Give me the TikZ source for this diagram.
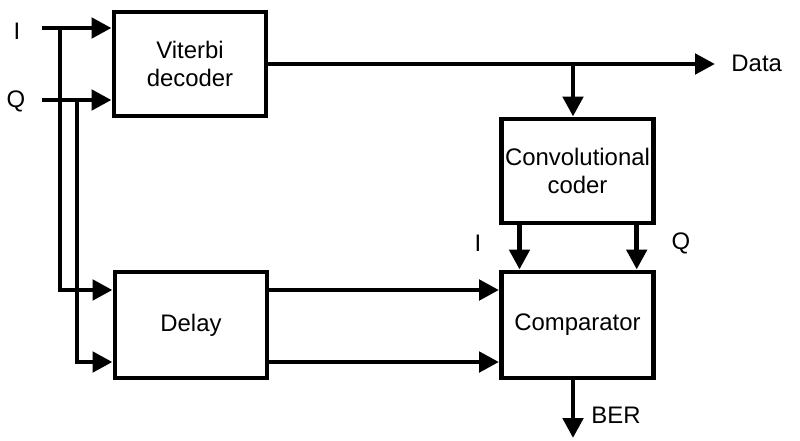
\documentclass[tikz,border=0pt]{standalone}
\usepackage{fontspec}
\setmainfont{Liberation Sans}
\usetikzlibrary{arrows.meta}

\begin{document}
\begin{tikzpicture}[x=0.025cm, y=-0.025cm, line width=3.5pt,
    block/.style={draw, line width=3.5pt, align=center, inner sep=0pt,
      minimum width=3.8cm, font=\fontsize{17}{20.5}\selectfont},
    sig/.style={-{Triangle[length=0.5cm, width=0.5cm]}},
    lbl/.style={font=\fontsize{17}{20.5}\selectfont, inner sep=0pt}]
            \useasboundingbox (0,0) rectangle (800,440);
            % blocks
            \node[block, minimum height=2.6cm] (vit) at (190,64) {Viterbi\\decoder};
            \node[block, minimum height=2.65cm] (del) at (191,325) {Delay};
            \node[block, minimum height=2.6cm] (conv) at (577.5,171) {Convolutional\\coder};
            \node[block, minimum height=2.65cm] (comp) at (577.5,325) {Comparator};
            % free ends and junctions
            \coordinate (inI) at (42,28);
            \coordinate (inQ) at (42,100);
            \coordinate (jI) at (60,28);
            \coordinate (jQ) at (77,100);
            \coordinate (data) at (715,64);
            \coordinate (brk) at (573,64);
            \coordinate (ber) at (573,438);
            % inputs
            \draw[sig] (inI) -- (inI -| vit.west);
            \draw[sig] (inQ) -- (inQ -| vit.west);
            \draw[sig] (jI) |- ([yshift=0.875cm]del.west);
            \draw[sig] (jQ) |- ([yshift=-0.925cm]del.west);
            % delay to comparator
            \draw[sig] ([yshift=0.875cm]del.east) -- ([yshift=0.875cm]comp.west);
            \draw[sig] ([yshift=-0.925cm]del.east) -- ([yshift=-0.925cm]comp.west);
            % decoder output
            \draw[sig] (vit.east) -- (data);
            \draw[sig] (brk) -- (brk |- conv.north);
            % coder to comparator
            \draw[sig] ([xshift=-1.45cm]conv.south) -- ([xshift=-1.45cm]comp.north);
            \draw[sig] ([xshift=1.48cm]conv.south) -- ([xshift=1.48cm]comp.north);
            \draw[sig] (comp.south -| ber) -- (ber);
            % labels
            \node[lbl] (lI) at (17,31) {I};
            \node[lbl] (lQ) at (16,101) {Q};
            \node[lbl, anchor=west] (lData) at (729,63) {Data};
            \node[lbl] (lIc) at (478,243) {I};
            \node[lbl] (lQc) at (681,243) {Q};
            \node[lbl, anchor=west] (lBER) at (589,415) {BER};
\end{tikzpicture}
\end{document}
